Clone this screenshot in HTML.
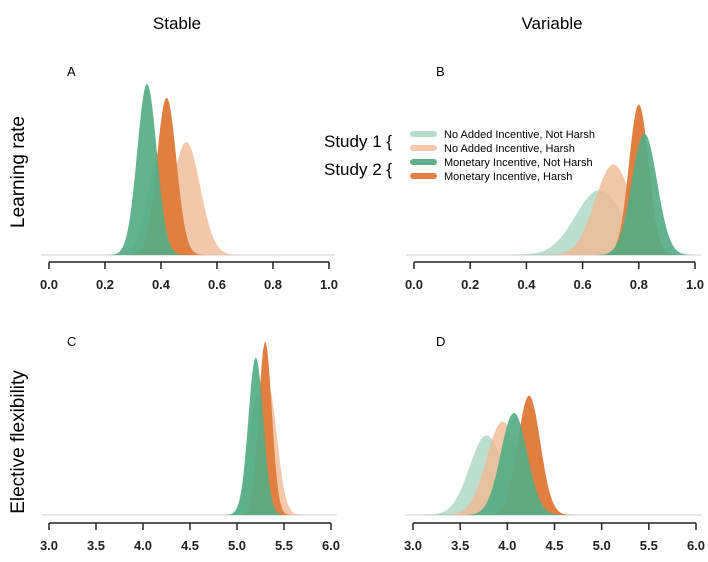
<!DOCTYPE html>
<html><head><meta charset="utf-8"><style>
body{margin:0;background:#fff;}
svg text{font-family:"Liberation Sans",sans-serif;}
</style></head><body>
<svg id="chart" width="708" height="557" viewBox="0 0 708 557">
<text x="177" y="29" font-size="17" text-anchor="middle">Stable</text>
<text x="552" y="29" font-size="17" text-anchor="middle">Variable</text>
<text transform="translate(24,172) rotate(-90)" font-size="19" text-anchor="middle">Learning rate</text>
<text transform="translate(24,442) rotate(-90)" font-size="19" text-anchor="middle">Elective flexibility</text>
<text x="67" y="76" font-size="13">A</text>
<text x="436" y="76" font-size="13">B</text>
<text x="67" y="346" font-size="13">C</text>
<text x="436" y="346" font-size="13">D</text>
<g id="panels"></g>
<g>
<text x="324" y="147" font-size="17">Study 1 {</text>
<text x="324" y="175" font-size="17">Study 2 {</text>
<rect x="410" y="131" width="27" height="6" rx="3" fill="#b6dccb"/>
<rect x="410" y="145" width="27" height="6" rx="3" fill="#f3c9ab"/>
<rect x="410" y="159" width="27" height="6" rx="3" fill="#5fb08a"/>
<rect x="410" y="173" width="27" height="6" rx="3" fill="#e07f40"/>
<text x="444" y="138" font-size="11">No Added Incentive, Not Harsh</text>
<text x="444" y="152" font-size="11">No Added Incentive, Harsh</text>
<text x="444" y="166" font-size="11">Monetary Incentive, Not Harsh</text>
<text x="444" y="180" font-size="11">Monetary Incentive, Harsh</text>
</g>
</svg>
<script>
// series order: no-incentive-not-harsh, no-incentive-harsh, monetary-harsh, monetary-not-harsh
const seriesNames = ["no-incentive-not-harsh","no-incentive-harsh","monetary-harsh","monetary-not-harsh"];
const seriesColors = ["rgba(120,190,160,0.5)","rgba(240,185,148,0.8)","#e07f40","rgba(85,172,132,0.92)"];
const ticksTop = [0.0,0.2,0.4,0.6,0.8,1.0];
const tickLabelsTop = ["0.0","0.2","0.4","0.6","0.8","1.0"];
const ticksBottom = [3.0,3.5,4.0,4.5,5.0,5.5,6.0];
const tickLabelsBottom = ["3.0","3.5","4.0","4.5","5.0","5.5","6.0"];
// per panel: means, sds, peak heights (relative to panel max)
const meansA = [0.40,0.49,0.42,0.35];
const sdsA = [0.045,0.05,0.035,0.035];
const peaksA = [0.62,0.66,0.92,1.0];
const meansB = [0.66,0.71,0.80,0.82];
const sdsB = [0.085,0.065,0.035,0.045];
const peaksB = [0.38,0.53,0.88,0.71];
const meansC = [5.22,5.33,5.30,5.20];
const sdsC = [0.095,0.095,0.07,0.08];
const peaksC = [0.70,0.75,1.0,0.91];
const meansD = [3.78,3.95,4.23,4.07];
const sdsD = [0.18,0.17,0.12,0.14];
const peaksD = [0.46,0.54,0.69,0.59];

const panels = [
 {id:"a",x0:49,x1:329,dmin:0,dmax:1,base:255,axis:262,h:171,ticks:ticksTop,labels:tickLabelsTop,m:meansA,s:sdsA,p:peaksA},
 {id:"b",x0:414,x1:695,dmin:0,dmax:1,base:255,axis:262,h:171,ticks:ticksTop,labels:tickLabelsTop,m:meansB,s:sdsB,p:peaksB},
 {id:"c",x0:49,x1:331,dmin:3,dmax:6,base:515,axis:523,h:173,ticks:ticksBottom,labels:tickLabelsBottom,m:meansC,s:sdsC,p:peaksC},
 {id:"d",x0:413,x1:696,dmin:3,dmax:6,base:515,axis:523,h:173,ticks:ticksBottom,labels:tickLabelsBottom,m:meansD,s:sdsD,p:peaksD}
];
const NS="http://www.w3.org/2000/svg";
const g=document.getElementById("panels");
function mk(t,a){const e=document.createElementNS(NS,t);for(const k in a)e.setAttribute(k,a[k]);return e;}
panels.forEach(P=>{
 const sx=v=>P.x0+(v-P.dmin)/(P.dmax-P.dmin)*(P.x1-P.x0);
 const sy=d=>P.base-d*P.h;
 const base=mk("line",{x1:P.x0-8,x2:P.x1+6,y1:P.base,y2:P.base,stroke:"#ddd","stroke-width":1.5});
 
 
 g.appendChild(base);
 for(let i=0;i<4;i++){
  let d="";const lo=P.m[i]-4.5*P.s[i],hi=P.m[i]+4.5*P.s[i];
  for(let k=0;k<=120;k++){const v=lo+(hi-lo)*k/120;const z=(v-P.m[i])/P.s[i];
   d+=(k?"L":"M")+sx(v).toFixed(2)+","+sy(P.p[i]*Math.exp(-z*z/2)).toFixed(2);}
  d+="Z";
  const path=mk("path",{d:d,fill:seriesColors[i]});
  
  
  g.appendChild(path);
 }
 const ax=mk("line",{x1:sx(P.ticks[0]),x2:sx(P.ticks[P.ticks.length-1]),y1:P.axis,y2:P.axis,stroke:"#222","stroke-width":1.5});
 
 
 g.appendChild(ax);
 P.ticks.forEach((t,j)=>{
  const tk=mk("line",{x1:sx(t),x2:sx(t),y1:P.axis,y2:P.axis+7,stroke:"#222","stroke-width":1.5});
  
  
  g.appendChild(tk);
  const tx=mk("text",{x:sx(t),y:P.axis+27,"font-size":13,"font-weight":"bold","text-anchor":"middle",fill:"#222"});
  tx.textContent=P.labels[j];
  
  
  g.appendChild(tx);
 });
});
</script>
</body></html>
